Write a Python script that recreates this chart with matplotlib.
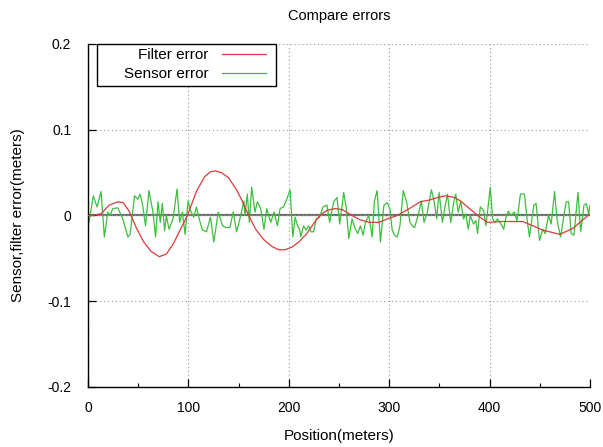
import matplotlib
matplotlib.use("Agg")
import matplotlib.pyplot as plt
from matplotlib.ticker import MultipleLocator
from matplotlib.offsetbox import DrawingArea

plt.rcParams['font.family'] = ['Liberation Sans', 'DejaVu Sans']

title = "Compare errors"
xlabel = "Position(meters)"
ylabel = "Sensor,filter error(meters)"
x_ticks = [0, 100, 200, 300, 400, 500]
x_ticklabels = ["0", "100", "200", "300", "400", "500"]
y_ticks = [-0.2, -0.1, 0, 0.1, 0.2]
y_ticklabels = ["-0.2", "-0.1", "0", "0.1", "0.2"]

filter_pos = [0, 5, 13, 21, 30, 35, 41, 48, 55, 63, 71, 78, 85, 93, 99, 108, 116,
              122, 127, 133, 140, 148, 154, 160, 167, 175, 183, 190, 196, 203, 210,
              218, 225, 231, 238, 246, 253, 263, 271, 280, 290, 298, 308, 320, 331,
              340, 348, 356, 365, 371, 380, 388, 398, 413, 433, 453, 470, 483, 492, 500]
filter_err = [0, 0, 0.002, 0.012, 0.016, 0.015, 0.005, -0.014, -0.030, -0.042, -0.048,
              -0.045, -0.033, -0.014, 0.0, 0.028, 0.045, 0.051, 0.052, 0.050, 0.044,
              0.030, 0.016, 0.0, -0.016, -0.028, -0.036, -0.040, -0.040, -0.037, -0.031,
              -0.021, -0.009, 0.0, 0.006, 0.008, 0.007, 0.0, -0.005, -0.008, -0.008,
              -0.004, 0.0, 0.008, 0.016, 0.018, 0.021, 0.023, 0.021, 0.017, 0.008, 0.0,
              -0.008, -0.007, -0.007, -0.017, -0.022, -0.015, -0.006, 0.002]

sensor_pos = [1, 5.3, 9, 13, 16.3, 19.7, 22, 24.7, 29.7, 34.7, 39.7, 42, 46.3, 49.7, 52,
              54.7, 57.3, 60.7, 64.7, 67.3, 69.7, 72, 74, 76.3, 78, 80.7, 84.7, 88.7,
              91.3, 94, 96.7, 99.7, 102, 103, 105.3, 108, 110.7, 114, 118, 122, 125.3,
              129.7, 134, 137.3, 141.3, 144.7, 148, 151.3, 155.3, 156.3, 158.7, 160.7,
              163, 166.3, 168.7, 172, 175.3, 178, 182, 185.3, 188.7, 191.3, 194.7, 198,
              201.3, 204, 206.3, 208.7, 210.7, 212, 214.7, 217.3, 219.7, 222, 224.7,
              227.3, 230.7, 234, 238, 240.7, 244.7, 248, 250.7, 254.7, 257.3, 259.7,
              263, 266.3, 268.7, 271.3, 274, 276.3, 279.7, 283, 285.3, 288, 291.3,
              294.7, 298, 300.7, 303, 305.3, 308, 310.7, 314, 317.3, 320.7, 323, 325.3,
              329.7, 332, 334.7, 338, 342, 344.7, 347.3, 349.7, 353, 355.3, 358, 361.3,
              364, 366.3, 368.7, 371.3, 374, 376.3, 378.7, 380.7, 384, 386.3, 388,
              390.7, 394, 396.3, 400.7, 403, 405.3, 408, 411.3, 414, 416.3, 418.7,
              421.3, 424.7, 427.3, 430.7, 434.7, 437.3, 439.7, 444, 446.3, 449.7, 453,
              455.3, 458.7, 461.3, 464.7, 467.3, 470.7, 474, 476.3, 478.7, 481.3, 484,
              488, 490.7, 494, 496.3, 498.7, 500]
sensor_err = [-0.008, 0.023, 0.010, 0.028, -0.025, 0.004, 0.000, 0.008, 0.009, -0.004,
              -0.025, -0.022, 0.023, 0.019, 0.025, 0.010, -0.012, 0.029, 0.004, -0.025,
              0.016, -0.008, 0.014, -0.018, 0.000, -0.016, -0.004, 0.031, -0.008, 0.004,
              -0.022, 0.017, 0.006, 0.004, -0.002, 0.010, -0.004, -0.017, -0.019, -0.002,
              -0.031, 0.004, -0.012, -0.014, -0.014, 0.004, -0.019, -0.004, 0.017, 0.000,
              0.025, -0.008, 0.033, 0.004, 0.016, 0.008, -0.016, 0.008, -0.008, 0.004,
              -0.012, 0.008, 0.010, 0.019, 0.030, -0.025, -0.002, -0.012, -0.016, -0.025,
              -0.012, -0.017, -0.012, -0.019, -0.019, -0.004, -0.002, 0.010, 0.012,
              -0.008, 0.016, 0.021, -0.010, 0.027, 0.008, -0.027, -0.004, -0.016, -0.021,
              -0.012, -0.023, -0.008, 0.000, -0.025, 0.017, 0.029, -0.031, 0.012, 0.015,
              0.008, -0.017, -0.023, -0.025, -0.012, 0.029, 0.016, -0.008, -0.012, -0.014,
              0.004, 0.017, -0.008, 0.004, 0.030, 0.017, -0.004, 0.027, -0.008, 0.008,
              0.025, -0.008, 0.014, 0.025, 0.004, 0.016, -0.004, 0.002, -0.016, 0.000,
              -0.010, -0.006, -0.021, 0.010, 0.006, -0.012, 0.033, -0.004, -0.008,
              -0.004, -0.010, -0.016, -0.002, 0.005, 0.000, 0.004, -0.006, 0.025, 0.025,
              -0.004, -0.025, 0.012, 0.014, -0.029, -0.016, -0.021, 0.000, -0.010, 0.028,
              -0.006, -0.025, 0.000, 0.016, 0.016, -0.021, -0.023, 0.027, -0.019, 0.012,
              0.014, 0.002, 0.012]

W, H = 603, 447
fig = plt.figure(figsize=(W / 100, H / 100), dpi=100)
L, R, T, B = 88, 590, 44, 387
ax = fig.add_axes([L / W, 1 - B / H, (R - L) / W, (B - T) / H])

ax.set_xlim(0, 500)
ax.set_ylim(-0.2, 0.2)

ax.axhline(0, color='#6e6e6e', lw=1.6, zorder=1.5)
ax.plot(filter_pos, filter_err, color='#dc3a3a', lw=0.9, label='Filter error', zorder=3)
ax.plot(sensor_pos, sensor_err, color='#3cbf3c', lw=0.9, label='Sensor error', zorder=2.5)

ax.set_xticks(x_ticks)
ax.set_xticklabels(x_ticklabels)
ax.set_yticks(y_ticks)
ax.set_yticklabels(y_ticklabels)
ax.xaxis.set_minor_locator(MultipleLocator(50))

ax.grid(True, which='major', color='#9a9a9a', lw=0.8, linestyle=(0, (1, 2.5)))
for s in ['top', 'right']:
    ax.spines[s].set_visible(False)
for s in ['left', 'bottom']:
    ax.spines[s].set_linewidth(1.0)
    ax.spines[s].set_color('black')

ax.tick_params(axis='both', which='major', direction='in', length=6, width=0.9,
               labelsize=10, top=False, right=False)
ax.tick_params(axis='x', which='major', pad=10)
ax.tick_params(axis='y', which='major', pad=12)
ax.tick_params(axis='x', which='minor', direction='in', length=3, width=0.8, top=False)

ax.set_title(title, fontsize=10.5, pad=17)
ax.set_xlabel(xlabel, fontsize=11)
ax.set_ylabel(ylabel, fontsize=11)
ax.xaxis.set_label_coords(0.5, (B - 436) / (B - T))
ax.xaxis.label.set_va('center')
ax.yaxis.set_label_coords((18 - L) / (R - L), 0.5)
ax.yaxis.label.set_va('center')

leg = ax.legend(loc='upper left', bbox_to_anchor=((97 - L) / (R - L), 1.0),
                markerfirst=False, fancybox=False, framealpha=1, edgecolor='black',
                fontsize=11, handlelength=2.9, handletextpad=0.85, borderpad=0.27,
                labelspacing=0.35, borderaxespad=0, columnspacing=0)
leg.get_frame().set_linewidth(1.0)
# extra horizontal padding inside the legend box (wider on the left, like gnuplot)
try:
    hb = leg._legend_handle_box
    hb.sep = 0
    hb._children.insert(0, DrawingArea(16.5, 1))
    hb._children.append(DrawingArea(4.5, 1))
except Exception:
    pass

fig.savefig('out.png', dpi=100)
